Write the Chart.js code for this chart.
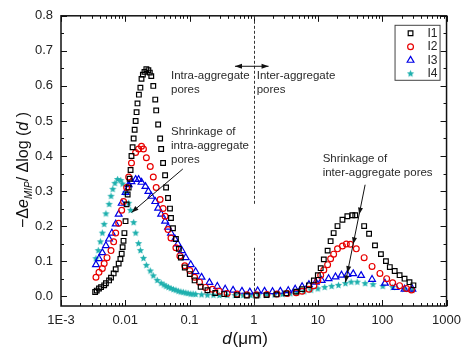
<!DOCTYPE html>
<html>
<head>
<meta charset="utf-8">
<script src="https://cdn.jsdelivr.net/npm/chart.js@4.4.1/dist/chart.umd.min.js"></script>
<style>
  html, body { margin: 0; padding: 0; background: #fff; }
  #wrap { width: 468px; height: 352px; }
</style>
</head>
<body>
<div id="wrap"><canvas id="chart" width="468" height="352"></canvas></div>
<script>
const FONT = '"Liberation Sans", Arial, sans-serif';

// series: [pore diameter d (um), -de/dlog(d)]
const seriesNames = ["I1", "I2", "I3", "I4"];

const i1 = [
  [0.0034, 0.012], [0.0036, 0.016], [0.0039, 0.022], [0.0042, 0.026], [0.0047, 0.031],
  [0.0050, 0.037], [0.0056, 0.045], [0.0060, 0.053], [0.0066, 0.065], [0.0071, 0.077],
  [0.0079, 0.093], [0.0084, 0.106], [0.0088, 0.121], [0.0091, 0.14], [0.0094, 0.158],
  [0.0097, 0.18], [0.0101, 0.214], [0.0105, 0.262], [0.0109, 0.29], [0.0113, 0.31],
  [0.0117, 0.335], [0.0121, 0.36], [0.0125, 0.40], [0.0130, 0.425], [0.0135, 0.45],
  [0.0140, 0.475], [0.0145, 0.50], [0.0150, 0.525], [0.0155, 0.55], [0.0163, 0.575],
  [0.0172, 0.595], [0.0179, 0.62], [0.0188, 0.632], [0.0199, 0.64], [0.0213, 0.648],
  [0.0229, 0.645], [0.0241, 0.638], [0.0254, 0.628], [0.0273, 0.60], [0.0293, 0.561],
  [0.0303, 0.53], [0.0325, 0.49], [0.0349, 0.45], [0.0362, 0.42], [0.0388, 0.38],
  [0.0417, 0.345], [0.0432, 0.31], [0.0463, 0.28], [0.0497, 0.25], [0.0515, 0.223],
  [0.0553, 0.194], [0.0614, 0.163], [0.0683, 0.135], [0.0733, 0.11], [0.0844, 0.082],
  [0.101, 0.063], [0.120, 0.045], [0.149, 0.027], [0.190, 0.017], [0.252, 0.009],
  [0.347, 0.006], [0.548, 0.003], [0.78, 0.002], [1.1, 0.002], [1.58, 0.003],
  [2.25, 0.005], [3.2, 0.008], [4.57, 0.013], [5.65, 0.02], [7.22, 0.031],
  [8.62, 0.045], [9.93, 0.06], [11.0, 0.08], [12.3, 0.105], [14.1, 0.13],
  [15.7, 0.157], [17.5, 0.18], [20.1, 0.2], [24.0, 0.218], [28.6, 0.228],
  [34.2, 0.231], [38.0, 0.231], [52.2, 0.2], [62.3, 0.178], [77.0, 0.145],
  [95.2, 0.12], [114, 0.1], [131, 0.083], [156, 0.072], [186, 0.06],
  [222, 0.05], [265, 0.04], [305, 0.031]
];

const i2 = [
  [0.0035, 0.054], [0.0039, 0.068], [0.0044, 0.079], [0.0047, 0.093], [0.0052, 0.110],
  [0.0060, 0.130], [0.0066, 0.155], [0.0071, 0.180], [0.0079, 0.208], [0.0088, 0.245],
  [0.0094, 0.27], [0.0105, 0.31], [0.0113, 0.34], [0.0125, 0.38], [0.0145, 0.41],
  [0.0161, 0.42], [0.0179, 0.428], [0.0192, 0.42], [0.0213, 0.395], [0.0245, 0.37],
  [0.0273, 0.34], [0.0303, 0.31], [0.0349, 0.276], [0.0388, 0.25], [0.0417, 0.228],
  [0.0463, 0.19], [0.0515, 0.166], [0.0614, 0.138], [0.0708, 0.115], [0.0844, 0.087],
  [0.101, 0.073], [0.120, 0.054], [0.143, 0.04], [0.177, 0.025], [0.227, 0.02],
  [0.291, 0.014], [0.385, 0.008], [0.548, 0.006], [0.78, 0.004], [1.1, 0.004],
  [1.6, 0.005], [2.3, 0.006], [3.3, 0.008], [4.57, 0.01], [5.65, 0.014],
  [7.22, 0.02], [8.62, 0.03], [9.93, 0.045], [11.0, 0.06], [12.3, 0.075],
  [14.1, 0.09], [15.7, 0.107], [17.5, 0.12], [20.1, 0.135], [24.0, 0.143],
  [27.6, 0.149], [31.8, 0.148], [39.4, 0.135], [52.2, 0.11], [69.3, 0.085],
  [91.9, 0.065], [117, 0.05], [145, 0.038], [186, 0.03], [238, 0.022], [285, 0.018]
];

const i3 = [
  [0.0035, 0.09], [0.0039, 0.107], [0.0044, 0.124], [0.0050, 0.144], [0.0056, 0.163],
  [0.0062, 0.180], [0.0071, 0.206], [0.0079, 0.234], [0.0088, 0.265], [0.0101, 0.296],
  [0.0113, 0.318], [0.0125, 0.327], [0.0145, 0.333], [0.0161, 0.333], [0.0179, 0.325],
  [0.0206, 0.313], [0.0229, 0.299], [0.0254, 0.285], [0.0293, 0.27], [0.0325, 0.251],
  [0.0362, 0.234], [0.0417, 0.214], [0.0463, 0.197], [0.0515, 0.18], [0.0593, 0.163],
  [0.0658, 0.149], [0.0760, 0.13], [0.0874, 0.11], [0.1045, 0.09], [0.1245, 0.07],
  [0.154, 0.054], [0.204, 0.039], [0.271, 0.028], [0.359, 0.02], [0.476, 0.017],
  [0.655, 0.014], [0.868, 0.012], [1.15, 0.015], [1.47, 0.014], [1.96, 0.013],
  [2.59, 0.014], [3.44, 0.016], [4.41, 0.02], [5.65, 0.027], [7.22, 0.033],
  [9.23, 0.04], [11.4, 0.045], [14.6, 0.05], [18.7, 0.055], [23.2, 0.06],
  [28.6, 0.062], [35.3, 0.064], [46.8, 0.059], [69.3, 0.048], [110, 0.037],
  [161, 0.025], [222, 0.02], [294, 0.02]
];

const i4 = [
  [0.0035, 0.107], [0.0038, 0.13], [0.0041, 0.155], [0.0044, 0.18], [0.0047, 0.205],
  [0.0050, 0.235], [0.0056, 0.262], [0.0060, 0.285], [0.0064, 0.305], [0.0069, 0.322],
  [0.0076, 0.333], [0.0085, 0.33], [0.0091, 0.32], [0.0101, 0.295], [0.0113, 0.265],
  [0.0121, 0.245], [0.0135, 0.21], [0.0145, 0.18], [0.0161, 0.15], [0.0172, 0.13],
  [0.0192, 0.108], [0.0213, 0.088], [0.0245, 0.072], [0.0273, 0.058], [0.0314, 0.045],
  [0.0362, 0.037], [0.0400, 0.032], [0.0432, 0.028], [0.0470, 0.025], [0.0515, 0.022],
  [0.0562, 0.019], [0.0614, 0.017], [0.0670, 0.014], [0.0733, 0.012], [0.080, 0.011],
  [0.0874, 0.009], [0.095, 0.008], [0.1045, 0.006], [0.114, 0.006], [0.1245, 0.005],
  [0.154, 0.004], [0.19, 0.003], [0.235, 0.003], [0.291, 0.002], [0.385, 0.002],
  [0.51, 0.002], [0.68, 0.002], [0.9, 0.002], [1.19, 0.003], [1.58, 0.003],
  [2.10, 0.004], [2.78, 0.005], [3.69, 0.007], [4.73, 0.01], [6.06, 0.013],
  [7.76, 0.017], [9.93, 0.021], [12.7, 0.025], [16.3, 0.028], [20.8, 0.031],
  [26.7, 0.036], [32.8, 0.04], [40.7, 0.04], [54.0, 0.036], [71.8, 0.033],
  [102, 0.028], [145, 0.025], [222, 0.02], [294, 0.017]
];

const xTicks = [0.001, 0.01, 0.1, 1, 10, 100, 1000];
const xTickLabels = ["1E-3", "0.01", "0.1", "1", "10", "100", "1000"];
const yTicks = [0, 0.1, 0.2, 0.3, 0.4, 0.5, 0.6, 0.7, 0.8];

const colors = ["#000000", "#e80000", "#0000e6", "#1fb0ae"];

function makeStar(color, r) {
  const c = document.createElement("canvas");
  const s = Math.ceil(r * 2) + 1;
  c.width = c.height = s;
  const g = c.getContext("2d");
  g.fillStyle = color;
  g.beginPath();
  for (let i = 0; i < 10; i++) {
    const a = -Math.PI / 2 + (i * Math.PI) / 5;
    const rr = i % 2 ? r * 0.45 : r;
    g.lineTo(s / 2 + rr * Math.cos(a), s / 2 + rr * Math.sin(a));
  }
  g.closePath();
  g.fill();
  return c;
}
const starImg = makeStar(colors[3], 3.8);

const styles = [
  { pointStyle: "rect", pointRadius: 3.3 },
  { pointStyle: "circle", pointRadius: 2.9 },
  { pointStyle: "triangle", pointRadius: 3.9 },
  { pointStyle: starImg, pointRadius: 4 },
];

function toPoints(arr) {
  return arr.map((p) => ({ x: p[0], y: p[1] }));
}

const datasets = [i1, i2, i3, i4].map((s, i) => ({
  label: seriesNames[i],
  data: toPoints(s),
  showLine: false,
  borderColor: colors[i],
  backgroundColor: "rgba(0,0,0,0)",
  pointBackgroundColor: i === 3 ? colors[3] : "rgba(0,0,0,0)",
  pointBorderColor: colors[i],
  pointBorderWidth: 1.2,
  pointStyle: styles[i].pointStyle,
  pointRadius: styles[i].pointRadius,
  pointHoverRadius: styles[i].pointRadius,
}));

function drawMarker(ctx, i, x, y) {
  ctx.save();
  ctx.strokeStyle = colors[i];
  ctx.lineWidth = 1.2;
  ctx.beginPath();
  if (i === 0) {
    const h = 3.3 * Math.SQRT1_2;
    ctx.rect(x - h, y - h, 2 * h, 2 * h);
    ctx.stroke();
  } else if (i === 1) {
    ctx.arc(x, y, 2.9, 0, Math.PI * 2);
    ctx.stroke();
  } else if (i === 2) {
    const r = 3.9;
    ctx.moveTo(x, y - r);
    ctx.lineTo(x + r * Math.sin(Math.PI * 2 / 3), y + r * 0.5);
    ctx.lineTo(x - r * Math.sin(Math.PI * 2 / 3), y + r * 0.5);
    ctx.closePath();
    ctx.stroke();
  } else {
    ctx.drawImage(starImg, x - starImg.width / 2, y - starImg.height / 2);
  }
  ctx.restore();
}

function arrowHead(ctx, x1, y1, x2, y2, len, wid) {
  const a = Math.atan2(y2 - y1, x2 - x1);
  ctx.beginPath();
  ctx.moveTo(x2, y2);
  ctx.lineTo(x2 - len * Math.cos(a) + wid * Math.sin(a), y2 - len * Math.sin(a) - wid * Math.cos(a));
  ctx.lineTo(x2 - len * Math.cos(a) - wid * Math.sin(a), y2 - len * Math.sin(a) + wid * Math.cos(a));
  ctx.closePath();
  ctx.fill();
}

// labels placed in data coordinates
const notes = [
  { d: 0.0515, v: 0.628, text: "Intra-aggregate" },
  { d: 0.0515, v: 0.589, text: "pores" },
  { d: 1.11, v: 0.628, text: "Inter-aggregate" },
  { d: 1.11, v: 0.589, text: "pores" },
  { d: 0.0515, v: 0.468, text: "Shrinkage of" },
  { d: 0.0515, v: 0.429, text: "intra-aggregate" },
  { d: 0.0515, v: 0.390, text: "pores" },
  { d: 11.8, v: 0.392, text: "Shrinkage of" },
  { d: 11.8, v: 0.352, text: "inter-aggregate pores" },
];

const decorPlugin = {
  id: "decor",
  afterDraw(chart) {
    const ctx = chart.ctx;
    const xs = chart.scales.x;
    const ys = chart.scales.y;
    const { left, right, top, bottom } = chart.chartArea;
    const px = (d) => xs.getPixelForValue(d);
    const py = (v) => ys.getPixelForValue(v);
    ctx.save();

    // frame
    ctx.strokeStyle = "#111";
    ctx.lineWidth = 1.5;
    ctx.strokeRect(left, top, right - left, bottom - top);

    // inward ticks
    ctx.lineWidth = 1;
    ctx.beginPath();
    for (let e = -3; e <= 3; e++) {
      for (let m = 1; m <= 9; m++) {
        if (e === 3 && m > 1) break;
        const x = Math.round(px(m * Math.pow(10, e))) + 0.5;
        const len = m === 1 ? 6 : 3;
        ctx.moveTo(x, bottom); ctx.lineTo(x, bottom - len);
        ctx.moveTo(x, top); ctx.lineTo(x, top + len);
      }
    }
    for (let k = 0; k <= 16; k++) {
      const y = Math.round(py(k * 0.05)) + 0.5;
      const len = k % 2 === 0 ? 6 : 3;
      ctx.moveTo(left, y); ctx.lineTo(left + len, y);
      ctx.moveTo(right, y); ctx.lineTo(right - len, y);
    }
    ctx.stroke();

    // dashed divider at d = 1 um
    ctx.strokeStyle = "#333";
    ctx.setLineDash([3, 2]);
    const xd = Math.round(px(1)) + 0.5;
    ctx.beginPath();
    ctx.moveTo(xd, top); ctx.lineTo(xd, py(0.259));
    ctx.moveTo(xd, py(0.138)); ctx.lineTo(xd, bottom);
    ctx.stroke();
    ctx.setLineDash([]);

    // double arrow
    ctx.strokeStyle = "#111";
    ctx.fillStyle = "#111";
    const ay = py(0.656);
    const ax1 = px(0.51), ax2 = px(1.7);
    ctx.beginPath();
    ctx.moveTo(ax1, ay); ctx.lineTo(ax2, ay);
    ctx.stroke();
    arrowHead(ctx, ax2, ay, ax1, ay, 7, 2.5);
    arrowHead(ctx, ax1, ay, ax2, ay, 7, 2.5);

    // arrow to intra-aggregate peaks
    const l1 = [px(0.0787), py(0.363)], l2 = [px(0.01254), py(0.239)];
    ctx.beginPath();
    ctx.moveTo(l1[0], l1[1]); ctx.lineTo(l2[0], l2[1]);
    ctx.stroke();
    arrowHead(ctx, l1[0], l1[1], l2[0], l2[1], 7, 2.5);

    // arrow through inter-aggregate peaks
    const r1 = [px(54.1), py(0.318)], r2 = [px(26.7), py(0.039)];
    ctx.beginPath();
    ctx.moveTo(r1[0], r1[1]); ctx.lineTo(r2[0], r2[1]);
    ctx.stroke();
    [0.233, 0.148, 0.066, 0.039].forEach((v) => {
      const yy = py(v);
      const t = (yy - r1[1]) / (r2[1] - r1[1]);
      const xx = r1[0] + t * (r2[0] - r1[0]);
      arrowHead(ctx, r1[0], r1[1], xx, yy, 7, 2.5);
    });

    // annotation text
    ctx.fillStyle = "#2a2a2a";
    ctx.font = "11.5px " + FONT;
    ctx.textBaseline = "middle";
    ctx.textAlign = "left";
    notes.forEach((n) => ctx.fillText(n.text, px(n.d), py(n.v)));

    // legend
    const lx = right - 52, ly = top + 9, lw = 45, lh = 55;
    ctx.fillStyle = "#fff";
    ctx.fillRect(lx, ly, lw, lh);
    ctx.strokeStyle = "#444";
    ctx.lineWidth = 1;
    ctx.strokeRect(lx + 0.5, ly + 0.5, lw, lh);
    ctx.font = "12px " + FONT;
    ctx.fillStyle = "#222";
    seriesNames.forEach((name, i) => {
      const yy = ly + 8.5 + i * 13.5;
      drawMarker(ctx, i, lx + 16, yy);
      ctx.fillText(name, lx + 33, yy);
    });

    // axis titles
    ctx.fillStyle = "#111";
    ctx.textBaseline = "alphabetic";
    // x title: d (um)
    const xt = [["d", "italic 17px "], ["(\u03bcm)", "17px "]];
    ctx.font = xt[0][1] + FONT;
    let w0 = ctx.measureText(xt[0][0]).width + 1;
    ctx.font = xt[1][1] + FONT;
    let w1 = ctx.measureText(xt[1][0]).width;
    let sx = 245 - (w0 + w1) / 2;
    ctx.font = xt[0][1] + FONT;
    ctx.fillText(xt[0][0], sx, 344);
    ctx.font = xt[1][1] + FONT;
    ctx.fillText(xt[1][0], sx + w0, 344);

    // y title: -Δe_MIP / Δlog (d)
    const parts = [
      { t: "\u2212\u0394", f: "16px ", dy: 0 },
      { t: "e", f: "italic 16px ", dy: 0 },
      { t: "MIP", f: "italic 10px ", dy: 4 },
      { t: "/ \u0394log (", f: "16px ", dy: 0 },
      { t: "d", f: "italic 16px ", dy: 0 },
      { t: " )", f: "16px ", dy: 0 },
    ];
    let total = 0;
    parts.forEach((p) => { ctx.font = p.f + FONT; p.w = ctx.measureText(p.t).width; total += p.w; });
    ctx.translate(28, 170);
    ctx.rotate(-Math.PI / 2);
    let cx = -total / 2;
    parts.forEach((p) => {
      ctx.font = p.f + FONT;
      ctx.fillText(p.t, cx, p.dy);
      cx += p.w;
    });
    ctx.restore();
  },
};

new Chart(document.getElementById("chart"), {
  type: "scatter",
  data: { datasets },
  options: {
    responsive: false,
    animation: false,
    devicePixelRatio: 1,
    layout: { padding: { top: 12, right: 16, left: 0, bottom: 0 } },
    plugins: { legend: { display: false }, tooltip: { enabled: false } },
    scales: {
      x: {
        type: "logarithmic",
        min: 0.001,
        max: 1000,
        grid: { display: false, drawTicks: false },
        border: { display: false },
        ticks: {
          autoSkip: false,
          maxRotation: 0,
          padding: 7,
          color: "#222",
          font: { family: FONT, size: 13 },
          callback: (v) => {
            const i = xTicks.findIndex((t) => Math.abs(Math.log10(t) - Math.log10(v)) < 1e-6);
            return i >= 0 ? xTickLabels[i] : "";
          },
        },
        afterBuildTicks: (s) => { s.ticks = xTicks.map((v) => ({ value: v })); },
        afterFit: (s) => { s.height = 46; },
      },
      y: {
        type: "linear",
        min: -0.028,
        max: 0.8,
        grid: { display: false, drawTicks: false },
        border: { display: false },
        ticks: {
          padding: 8,
          color: "#222",
          font: { family: FONT, size: 13 },
          callback: (v) => v.toFixed(1),
        },
        afterBuildTicks: (s) => { s.ticks = yTicks.map((v) => ({ value: v })); },
        afterFit: (s) => { s.width = 61; },
      },
    },
  },
  plugins: [decorPlugin],
});
</script>
</body>
</html>
